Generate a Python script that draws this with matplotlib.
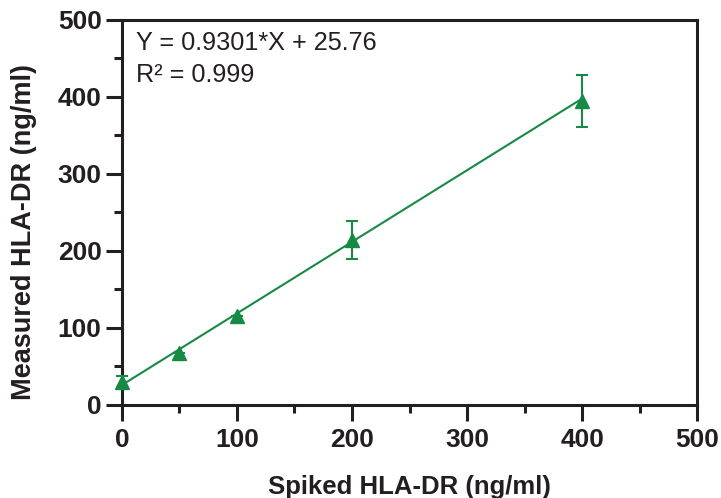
import numpy as np
import matplotlib.pyplot as plt
from matplotlib.ticker import MultipleLocator

# spiked vs measured HLA-DR
spiked = [0, 50, 100, 200, 400]
measured = [30, 67, 115, 214, 395]
err = [7, 0, 0, 25, 34]

slope = 0.9301
intercept = 25.76

green = '#168a45'
dark = '#231f20'
bold = dict(family=['Liberation Sans', 'DejaVu Sans'], weight='bold', stretch='normal')

fig = plt.figure(figsize=(7.21, 4.98), dpi=100)
ax = fig.add_axes([0.169, 0.187, 0.798, 0.773])

xfit = np.array([0, 400])
ax.plot(xfit, slope * xfit + intercept, color=green, linewidth=1.5, zorder=2)
ax.errorbar(spiked, measured, yerr=err, fmt='^', color=green, markersize=9.5,
            ecolor=green, elinewidth=1.5, capsize=4.5, capthick=1.5, zorder=3,
            clip_on=False)

ax.set_xlim(0, 500)
ax.set_ylim(0, 500)
ax.xaxis.set_major_locator(MultipleLocator(100))
ax.xaxis.set_minor_locator(MultipleLocator(50))
ax.yaxis.set_major_locator(MultipleLocator(100))
ax.yaxis.set_minor_locator(MultipleLocator(50))

for s in ax.spines.values():
    s.set_linewidth(2.2)
    s.set_color(dark)
ax.tick_params(which='major', length=11.5, width=2.2, color=dark, direction='out')
ax.tick_params(which='minor', length=6, width=2.2, color=dark, direction='out')
ax.tick_params(axis='x', which='major', pad=5.5)
ax.tick_params(axis='y', which='major', pad=3)

for lab in ax.get_xticklabels() + ax.get_yticklabels():
    lab.set(fontsize=19, color=dark, **bold)

ax.set_xlabel('Spiked HLA-DR (ng/ml)', fontsize=18.5, color=dark, labelpad=16, **bold)
ax.set_ylabel('Measured HLA-DR (ng/ml)', fontsize=19.5, color=dark, **bold)
ax.yaxis.set_label_coords(-0.148, 0.449)

txt = dict(transform=ax.transAxes, ha='left', va='baseline', fontsize=18.2,
           color=dark, family=['Liberation Sans', 'DejaVu Sans'], stretch='normal')
ax.text(0.024, 0.922, 'Y = 0.9301*X + 25.76', **txt)
ax.text(0.024, 0.839, 'R² = 0.999', **txt)

plt.savefig('out.png', dpi=100)
